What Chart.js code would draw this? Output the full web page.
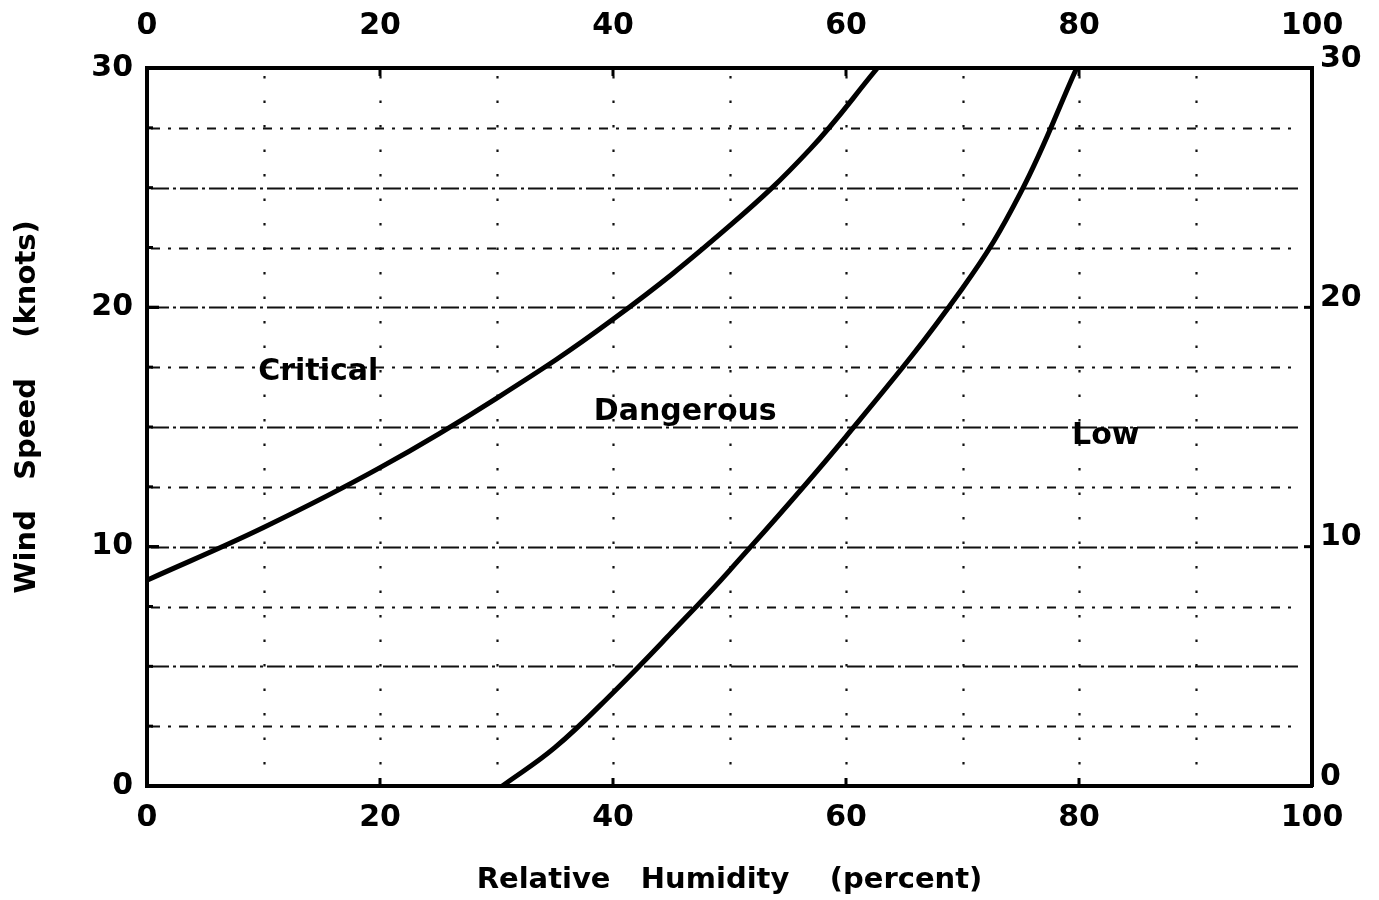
<!DOCTYPE html>
<html>
<head>
<meta charset="utf-8">
<title>Fire danger: wind speed vs relative humidity</title>
<script src="https://cdn.jsdelivr.net/npm/chart.js@4/dist/chart.umd.min.js"></script>
<style>
  html, body { margin: 0; padding: 0; background: #fff; }
  #wrap { width: 1379px; height: 900px; position: relative; }
</style>
</head>
<body>
<div id="wrap"><canvas id="dangerChart"></canvas></div>
<script>
// boundary between Critical and Dangerous (RH %, wind knots)
const criticalRH   = [0, 10, 20, 30, 40, 50, 56.9, 62.7];
const criticalWind = [8.6, 10.8, 13.3, 16.2, 19.5, 23.4, 26.6, 30];

// boundary between Dangerous and Low
const lowRH   = [30.5, 35, 40, 45, 50, 60, 70, 75, 79.8];
const lowWind = [0, 1.6, 3.9, 6.4, 9.0, 14.6, 20.8, 24.8, 30];

const rhTicks   = [0, 20, 40, 60, 80, 100];
const windTicks = [0, 10, 20, 30];

const gridWind = [2.5, 5, 7.5, 10, 12.5, 15, 17.5, 20, 22.5, 25, 27.5];
const gridRH   = [10, 20, 30, 40, 50, 60, 70, 80, 90];

const regionLabels = [
  { text: "Critical",  rh: 14.7, wind: 17.3 },
  { text: "Dangerous", rh: 46.2, wind: 15.6 },
  { text: "Low",       rh: 82.3, wind: 14.6 },
];

const FONT = "'DejaVu Sans', sans-serif";

const toPoints = (xs, ys) => xs.map((x, i) => ({ x, y: ys[i] }));

// dash-dot grid, inward ticks and the zone names
const plotDecor = {
  id: "plotDecor",
  beforeDatasetsDraw(chart) {
    const { ctx, chartArea: a, scales } = chart;
    const xs = scales.x, ys = scales.y;
    ctx.save();
    ctx.beginPath();
    ctx.rect(a.left, a.top, a.right - a.left, a.bottom - a.top);
    ctx.clip();

    ctx.strokeStyle = "#111";
    gridWind.forEach((w) => {
      const py = Math.round(ys.getPixelForValue(w)) + 0.5;
      const major = w % 5 === 0;
      ctx.lineWidth = major ? 2.2 : 1.8;
      ctx.setLineDash(major ? [18, 4, 3, 4] : [9, 8, 3, 8]);
      ctx.beginPath();
      ctx.moveTo(a.left + 4, py);
      ctx.lineTo(a.right - 14, py);
      ctx.stroke();
    });

    ctx.lineWidth = 2.2;
    ctx.setLineDash([2.5, 22]);
    gridRH.forEach((r) => {
      const px = Math.round(xs.getPixelForValue(r)) + 0.5;
      ctx.beginPath();
      ctx.moveTo(px, a.top + 8);
      ctx.lineTo(px, a.bottom - 4);
      ctx.stroke();
    });
    ctx.restore();

    // inward ticks
    ctx.save();
    ctx.strokeStyle = "#000";
    ctx.lineWidth = 3;
    gridWind.concat(windTicks).forEach((w) => {
      const py = ys.getPixelForValue(w);
      const len = w % 10 === 0 ? 12 : 6;
      ctx.beginPath();
      ctx.moveTo(a.left, py);
      ctx.lineTo(a.left + len, py);
      ctx.stroke();
    });
    [10, 20].forEach((w) => {
      const py = ys.getPixelForValue(w);
      ctx.beginPath();
      ctx.moveTo(a.right - 8, py);
      ctx.lineTo(a.right, py);
      ctx.stroke();
    });
    rhTicks.slice(1, -1).forEach((r) => {
      const px = xs.getPixelForValue(r);
      ctx.beginPath();
      ctx.moveTo(px, a.bottom);
      ctx.lineTo(px, a.bottom - 8);
      ctx.moveTo(px, a.top);
      ctx.lineTo(px, a.top + 8);
      ctx.stroke();
    });

    ctx.fillStyle = "#000";
    ctx.font = "bold 30px " + FONT;
    ctx.textAlign = "center";
    ctx.textBaseline = "middle";
    regionLabels.forEach((l) => {
      ctx.fillText(l.text, xs.getPixelForValue(l.rh), ys.getPixelForValue(l.wind));
    });
    ctx.restore();
  },
};

const tickFont = { family: FONT, size: 30, weight: "bold" };
const titleFont = { family: FONT, size: 29, weight: "bold", lineHeight: 1.2 };

const fixSize = (prop, val) => (scale) => { scale[prop] = val; };

const baseAxis = (min, max, step) => ({
  type: "linear",
  min, max,
  grid: { display: false, drawTicks: false },
  border: { display: true, width: 4, color: "#000" },
  ticks: { stepSize: step, color: "#000", font: tickFont, maxRotation: 0 },
});

const curve = (label, xs, ys) => ({
  label,
  data: toPoints(xs, ys),
  showLine: true,
  borderColor: "#000",
  borderWidth: 5,
  pointRadius: 0,
  tension: 0.4,
});

new Chart(document.getElementById("dangerChart"), {
  type: "scatter",
  data: {
    datasets: [
      curve("Critical / Dangerous", criticalRH, criticalWind),
      curve("Dangerous / Low", lowRH, lowWind),
    ],
  },
  options: {
    responsive: true,
    maintainAspectRatio: false,
    animation: false,
    layout: { padding: 0 },
    plugins: { legend: { display: false }, tooltip: { enabled: false } },
    scales: {
      x: {
        ...baseAxis(0, 100, 20),
        position: "bottom",
        afterFit: fixSize("height", 114),
        ticks: { ...baseAxis(0, 100, 20).ticks, padding: 14 },
        title: { display: true, text: "Relative   Humidity    (percent)", color: "#000", font: titleFont, padding: 2 },
      },
      x2: {
        ...baseAxis(0, 100, 20),
        position: "top",
        afterFit: fixSize("height", 68),
        ticks: { ...baseAxis(0, 100, 20).ticks, padding: 24 },
      },
      y: {
        ...baseAxis(0, 30, 10),
        position: "left",
        afterFit: fixSize("width", 147),
        ticks: { ...baseAxis(0, 30, 10).ticks, padding: 14 },
        // leading spaces nudge the rotated title upward
        title: { display: true, text: "    Wind   Speed    (knots)", color: "#000", font: titleFont, padding: 10 },
      },
      y2: {
        ...baseAxis(0, 30, 10),
        position: "right",
        afterFit: fixSize("width", 67),
        ticks: { ...baseAxis(0, 30, 10).ticks, padding: 8, labelOffset: -9 },
      },
    },
  },
  plugins: [plotDecor],
});
</script>
</body>
</html>
